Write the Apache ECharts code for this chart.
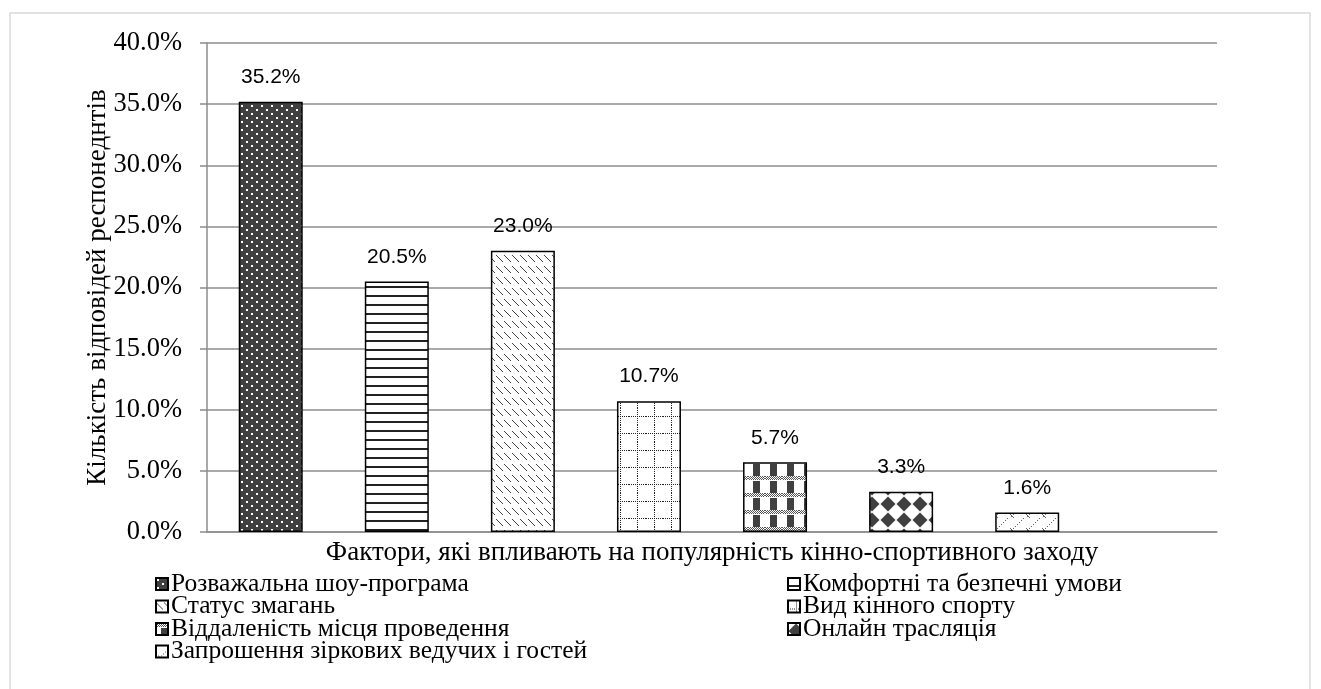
<!DOCTYPE html>
<html><head><meta charset="utf-8">
<script src="https://cdn.jsdelivr.net/npm/echarts@6/dist/echarts.min.js"></script>
<style>html,body{margin:0;padding:0;background:#fff}#c{width:1321px;height:689px}</style>
</head><body><div id="c"></div>
<script>
// ---- data ----
const categories = [''];
const factors = [
  'Розважальна шоу-програма',
  'Комфортні та безпечні умови',
  'Статус змагань',
  'Вид кінного спорту',
  'Віддаленість місця проведення',
  'Онлайн трасляція',
  'Запрошення зіркових ведучих і гостей'
];
const shares = [35.2, 20.5, 23.0, 10.7, 5.7, 3.3, 1.6];
const yTickMin = 0, yTickMax = 40, yTickStep = 5;
const yAxisTitle = 'Кількість відповідей респонеднтів';
const xAxisTitle = 'Фактори, які впливають на популярність кінно-спортивного заходу';

// ---- patterns ----
function tile(w, h, draw) {
  const c = document.createElement('canvas');
  c.width = w; c.height = h;
  const g = c.getContext('2d');
  g.fillStyle = '#fff'; g.fillRect(0, 0, w, h);
  draw(g);
  return { image: c, repeat: 'repeat' };
}
const patterns = [
  tile(10, 8, g => { g.fillStyle = '#404040'; g.fillRect(0,0,10,8); g.fillStyle = '#fff'; g.fillRect(1,1,2,2); g.fillRect(6,5,2,2); }),
  tile(4, 9, g => { g.fillStyle = '#222'; g.fillRect(0,7,4,2); }),
  tile(8, 11, g => { g.fillStyle = '#444'; for (let i = 0; i < 7; i++) g.fillRect(i, 2+i, 1, 1); }),
  tile(17, 17, g => { g.fillStyle = '#222'; for (let i = 0; i < 17; i += 2) { g.fillRect(8, i, 1, 1); g.fillRect(i, 8, 1, 1); } }),
  tile(17, 17, g => {
    g.fillStyle = '#555';
    for (let y = 0; y < 4; y++) for (let x = 0; x < 17; x++) if ((x + y) % 2 === 0) g.fillRect(x, y, 1, 1);
    g.fillStyle = '#404040'; g.fillRect(5, 5, 7, 12);
  }),
  tile(16, 16, g => { g.fillStyle = '#404040'; g.beginPath(); g.moveTo(8,0.5); g.lineTo(15.5,8); g.lineTo(8,15.5); g.lineTo(0.5,8); g.closePath(); g.fill(); }),
  tile(16, 14, g => {
    g.fillStyle = '#666';
    for (let i = 0; i < 14; i += 2) g.fillRect(15 - i, i, 1, 1);
    for (let i = 0; i < 4; i++) g.fillRect(2 + i, 10 + i, 1, 1);
  })
];

const labelStyle = {
  show: true, position: 'top', distance: 14,
  formatter: p => p.value.toFixed(1) + '%',
  color: '#000', fontFamily: 'Liberation Sans', fontSize: 21
};
const series = shares.map((v, i) => ({
  name: factors[i], type: 'bar', data: [v],
  barWidth: 64, barGap: '97%',
  itemStyle: { color: patterns[i], borderColor: '#000', borderWidth: 1.5 },
  label: labelStyle
}));
series.push({ name: ' ', type: 'bar', data: [null], barWidth: 64, barGap: '97%' });

const serif = 'Liberation Serif';
const legendBase = {
  orient: 'vertical', itemWidth: 12, itemHeight: 12, itemGap: -3.5, padding: 0,
  icon: 'rect', selectedMode: false,
  textStyle: { fontFamily: serif, fontSize: 25.5, lineHeight: 22, color: '#000', padding: [0,0,0,-2] }
};

const chart = echarts.init(document.getElementById('c'));
chart.setOption({
  animation: false,
  backgroundColor: '#fff',
  graphic: [{ type: 'rect', shape: { x: 10, y: 13, width: 1300, height: 700 }, style: { fill: 'none', stroke: '#d9d9d9', lineWidth: 1.5 }, silent: true }],
  grid: { left: 207, right: 104, top: 43, bottom: 157 },
  xAxis: {
    type: 'category', data: categories,
    axisLine: { lineStyle: { color: '#8c8c8c', width: 1.5 } },
    axisTick: { show: false }, axisLabel: { show: false },
    name: xAxisTitle, nameLocation: 'middle', nameGap: 7,
    nameTextStyle: { fontFamily: serif, fontSize: 27, color: '#000', verticalAlign: 'top' }
  },
  yAxis: {
    type: 'value', min: yTickMin, max: yTickMax, interval: yTickStep,
    axisLine: { show: true, lineStyle: { color: '#8c8c8c', width: 1.5 } },
    axisTick: { show: true, length: 7, lineStyle: { color: '#8c8c8c', width: 1.5 } },
    splitLine: { lineStyle: { color: '#8c8c8c', width: 1.5 } },
    axisLabel: { formatter: v => v.toFixed(1) + '%', fontFamily: serif, fontSize: 26.5, color: '#000', margin: 25 },
    name: yAxisTitle, nameLocation: 'middle', nameGap: 96, nameRotate: 90, nameMoveOverlap: false,
    nameTextStyle: { fontFamily: serif, fontSize: 27, color: '#000' }
  },
  legend: [
    Object.assign({}, legendBase, { left: 155, top: 571, data: [factors[0], factors[2], factors[4], factors[6]] }),
    Object.assign({}, legendBase, { left: 787, top: 571, data: [factors[1], factors[3], factors[5]] })
  ],
  series
});
</script></body></html>
